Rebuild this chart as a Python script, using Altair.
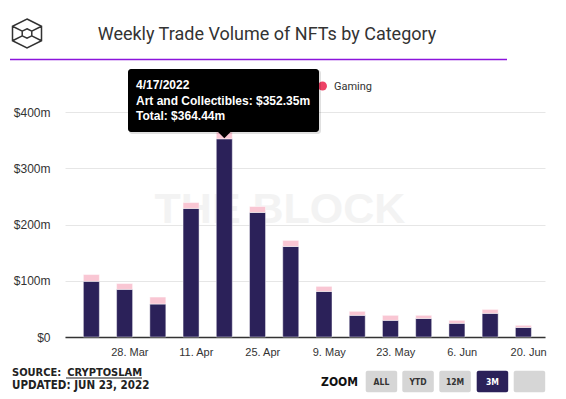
import altair as alt
import pandas as pd

# ---- data ----
dates = ["2022-03-20", "2022-03-27", "2022-04-03", "2022-04-10", "2022-04-17",
         "2022-04-24", "2022-05-01", "2022-05-08", "2022-05-15", "2022-05-22",
         "2022-05-29", "2022-06-05", "2022-06-12", "2022-06-19"]
art = [99.0, 84.7, 58.6, 228.6, 352.35, 221.5, 161.0, 81.0, 38.5, 29.6, 33.0, 24.3, 42.0, 17.0]
total = [111.0, 95.0, 71.0, 239.0, 364.44, 232.0, 171.7, 90.0, 45.6, 38.5, 38.5, 29.6, 49.0, 20.7]
categories = ["Art and Collectibles", "Gaming"]
y_ticks = [0, 100, 200, 300, 400]
x_ticks = ["2022-03-28", "2022-04-11", "2022-04-25", "2022-05-09", "2022-05-23", "2022-06-06", "2022-06-20"]
x_domain = ["2022-03-15T12:00:00", "2022-06-22T12:00:00"]
hover_date = "2022-04-17"
tooltip_lines = ["4/17/2022", "Art and Collectibles: $352.35m", "Total: $364.44m"]
buttons = ["ALL", "YTD", "12M", "3M", ""]


def ms(s):
    return int(pd.Timestamp(s, tz="UTC").value // 10**6)


rows = []
for d, a, t in zip(dates, art, total):
    rows.append({"date": d, "category": categories[0], "value": a, "ord": 0})
    rows.append({"date": d, "category": categories[1], "value": round(t - a, 2), "ord": 1})
df = pd.DataFrame(rows)
one = pd.DataFrame({"k": [0]})

DARK = "#2b2159"
PINK = "#f9c6d3"
TXT = "#333333"
FOOT = "DejaVu Sans Condensed, Liberation Sans, sans-serif"

xscale = alt.Scale(type="utc", domain=[ms(x_domain[0]), ms(x_domain[1])])

bars = alt.Chart(df).mark_bar(size=16, stroke="#ffffff", strokeWidth=1, strokeOpacity=0.45).encode(
    x=alt.X("date:T", scale=xscale,
            axis=alt.Axis(values=[ms(v) for v in x_ticks],
                          labelExpr="utcFormat(datum.value, '%-d. %b')",
                          grid=False, ticks=False, domainColor=TXT, domainWidth=1.5,
                          labelFont="Liberation Sans", labelFontSize=11, labelColor=TXT,
                          labelPadding=9, title=None)),
    y=alt.Y("value:Q", stack="zero", scale=alt.Scale(domain=[0, 400], nice=False),
            axis=alt.Axis(values=y_ticks,
                          labelExpr="datum.value == 0 ? '$0' : '$' + datum.value + 'm'",
                          grid=True, gridColor="#e6e6e6", ticks=False, domain=False,
                          labelPadding=15, labelFont="Liberation Sans", labelFontSize=12,
                          labelColor=TXT, title=None)),
    color=alt.Color("category:N", scale=alt.Scale(domain=categories, range=[DARK, PINK]), legend=None),
    order=alt.Order("ord:Q"),
)


def text(t, x, y, size=12, font="Liberation Sans", weight="normal", color=TXT, align="left"):
    return alt.Chart(one).mark_text(text=t, align=align, baseline="alphabetic", fontSize=size,
                                    font=font, fontWeight=weight, color=color).encode(
        x=alt.value(x), y=alt.value(y))


def rect(x1, x2, y1, y2, color, radius=0, opacity=1):
    return alt.Chart(one).mark_rect(color=color, cornerRadius=radius, opacity=opacity).encode(
        x=alt.value(x1), x2=alt.value(x2), y=alt.value(y1), y2=alt.value(y2))


watermark = text("THE BLOCK", 215, 111, size=43, weight="bold", color="#f3f3f3", align="center")

# header
logo_path = ("M0,-1L1,-0.5L1,0.5L0,1L-1,0.5L-1,-0.5Z"
             "M0,-0.33L0.33,-0.165L0.33,0.165L0,0.33L-0.33,0.165L-0.33,-0.165Z"
             "M-1,-0.5L-0.33,-0.165M1,-0.5L0.33,-0.165M-1,0.5L-0.33,0.165M1,0.5L0.33,0.165")
logo = alt.Chart(one).mark_point(shape=logo_path, filled=False, stroke=TXT, strokeWidth=1.5,
                                 size=841, opacity=1).encode(x=alt.value(-38), y=alt.value(-78.5))
title = text("Weekly Trade Volume of NFTs by Category", 202, -72, size=18, font="Roboto", align="center")
purple = alt.Chart(one).mark_rule(color="#8c14dc", strokeWidth=1.5).encode(
    x=alt.value(-55), x2=alt.value(442), y=alt.value(-52.5))

# legend (manual)
leg_art_dot = alt.Chart(one).mark_point(filled=True, shape="circle", size=80, color=DARK, opacity=1).encode(
    x=alt.value(116), y=alt.value(-26))
leg_art_txt = text(categories[0], 126, -22, size=11, font="Roboto")
leg_gam_dot = alt.Chart(one).mark_point(filled=True, shape="circle", size=80, color="#ee4266", opacity=1).encode(
    x=alt.value(257.5), y=alt.value(-26))
leg_gam_txt = text(categories[1], 269, -22, size=11, font="Roboto")

# tooltip
tip_shadow = rect(64, 256, -42, 22, "#000000", radius=3, opacity=0.12)
tip_box = rect(63, 254, -43, 20, "#000000", radius=3)
tip_ptr = alt.Chart(pd.DataFrame({"date": [hover_date]})).mark_point(
    shape="M-1,-0.5L1,-0.5L0,0.5Z", filled=True, fill="#000000", size=169, opacity=1, strokeWidth=0).encode(
    x=alt.X("date:T", scale=xscale), y=alt.value(23))
tip_texts = [text(t, 71, y, size=12, weight="bold", color="#ffffff")
             for t, y in zip(tooltip_lines, [-23, -7, 8])]

# footer
src1 = text("SOURCE:", -53, 264, size=11, font=FOOT, weight="bold", color="#222222")
src2 = text("CRYPTOSLAM", 77, 264, size=11, font=FOOT, weight="bold", color="#222222", align="right")
src_line = alt.Chart(one).mark_rule(color="#222222", strokeWidth=1).encode(
    x=alt.value(1), x2=alt.value(77), y=alt.value(266))
upd = text("UPDATED: JUN 23, 2022", -53, 277, size=11.5, font=FOOT, weight="bold", color="#222222")
zoom_lbl = text("ZOOM", 293, 274, size=12, font=FOOT, weight="bold", color="#111111", align="right")

btn_layers = []
bx = [300.7, 337.3, 374.3, 411.7, 448.7]
for lab, x0 in zip(buttons, bx):
    sel = lab == "3M"
    btn_layers.append(rect(x0, x0 + 31.5, 258.7, 280.3, DARK if sel else "#d6d6d6", radius=2))
    if lab:
        btn_layers.append(text(lab, x0 + 15.75, 273, size=8.5, font=FOOT, weight="bold",
                               color="#ffffff" if sel else "#333333", align="center"))

chart = alt.layer(
    watermark, bars, logo, title, purple,
    leg_art_dot, leg_art_txt, leg_gam_dot, leg_gam_txt,
    tip_shadow, tip_box, tip_ptr, *tip_texts,
    src1, src2, src_line, upd, zoom_lbl, *btn_layers,
).properties(
    width=480, height=225,
    autosize=alt.AutoSizeParams(type="none"),
    padding={"left": 57, "top": 104, "right": 13, "bottom": 58},
    background="#ffffff",
).configure_view(stroke=None)

chart.save("out.html", embed_options={"renderer": "svg", "actions": False})
